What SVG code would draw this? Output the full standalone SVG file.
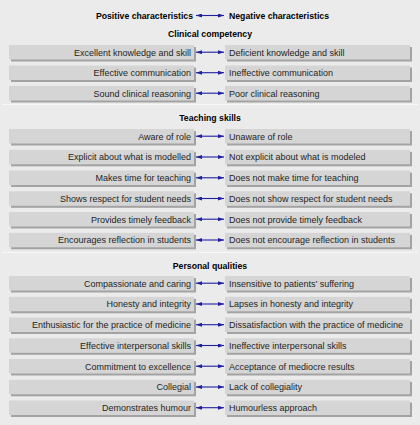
<svg xmlns="http://www.w3.org/2000/svg" width="420" height="425" viewBox="0 0 420 425">
<defs>
<style>
.bg{fill:#ebebeb}
.sep{stroke:#f7f7f7;stroke-width:1}
.box{fill:#d5d5d5}
.sh{fill:#a3a3a3}
.lt{font-family:"Liberation Sans",Arial,sans-serif;font-size:9px;fill:#1e1e1e;text-anchor:end}
.rt{font-family:"Liberation Sans",Arial,sans-serif;font-size:9px;fill:#1e1e1e;text-anchor:start}
.hd{font-family:"Liberation Sans",Arial,sans-serif;font-size:8.7px;font-weight:bold;fill:#000}
.ar{stroke:#1f1fa0;stroke-width:1.1;fill:none;marker-start:url(#ah);marker-end:url(#ah)}
</style>
<marker id="ah" viewBox="0 0 6 4" refX="6" refY="2" markerWidth="6" markerHeight="4" markerUnits="userSpaceOnUse" orient="auto-start-reverse">
<path d="M0,0 L6,2 L0,4 Z" fill="#1f1fa0"/>
</marker>
</defs>
<rect class="bg" x="0" y="0" width="420" height="425"/>
<line class="sep" x1="2" y1="104.5" x2="418" y2="104.5"/>
<line class="sep" x1="2" y1="252.5" x2="418" y2="252.5"/>

<g id="header">
<text class="hd" x="193" y="18.5" text-anchor="end">Positive characteristics</text>
<text class="hd" x="229" y="18.5">Negative characteristics</text>
</g>
<text class="hd" x="210" y="37" text-anchor="middle">Clinical competency</text>
<text class="hd" x="210" y="121" text-anchor="middle">Teaching skills</text>
<text class="hd" x="210" y="268.5" text-anchor="middle">Personal qualities</text>

<g id="connectors">
<line class="ar" x1="196" y1="15.5" x2="224" y2="15.5"/>
<line class="ar" x1="196" y1="52.2" x2="224" y2="52.2"/>
<line class="ar" x1="196" y1="72.7" x2="224" y2="72.7"/>
<line class="ar" x1="196" y1="93.2" x2="224" y2="93.2"/>
<line class="ar" x1="196" y1="136.2" x2="224" y2="136.2"/>
<line class="ar" x1="196" y1="157" x2="224" y2="157"/>
<line class="ar" x1="196" y1="177.8" x2="224" y2="177.8"/>
<line class="ar" x1="196" y1="198.5" x2="224" y2="198.5"/>
<line class="ar" x1="196" y1="219.2" x2="224" y2="219.2"/>
<line class="ar" x1="196" y1="240" x2="224" y2="240"/>
<line class="ar" x1="196" y1="283.2" x2="224" y2="283.2"/>
<line class="ar" x1="196" y1="304" x2="224" y2="304"/>
<line class="ar" x1="196" y1="324.7" x2="224" y2="324.7"/>
<line class="ar" x1="196" y1="345.5" x2="224" y2="345.5"/>
<line class="ar" x1="196" y1="366.2" x2="224" y2="366.2"/>
<line class="ar" x1="196" y1="387" x2="224" y2="387"/>
<line class="ar" x1="196" y1="407.7" x2="224" y2="407.7"/>
</g>

<g id="p1"><rect class="sh" x="11" y="47" width="185" height="14.5"/><rect class="box" x="9" y="45" width="185" height="14.5"/><text class="lt" x="191" y="55.5">Excellent knowledge and skill</text></g>
<g id="n1"><rect class="sh" x="227" y="47" width="185" height="14.5"/><rect class="box" x="225" y="45" width="185" height="14.5"/><text class="rt" x="229" y="55.5">Deficient knowledge and skill</text></g>
<g id="p2"><rect class="sh" x="11" y="67.5" width="185" height="14.5"/><rect class="box" x="9" y="65.5" width="185" height="14.5"/><text class="lt" x="191" y="76">Effective communication</text></g>
<g id="n2"><rect class="sh" x="227" y="67.5" width="185" height="14.5"/><rect class="box" x="225" y="65.5" width="185" height="14.5"/><text class="rt" x="229" y="76">Ineffective communication</text></g>
<g id="p3"><rect class="sh" x="11" y="88" width="185" height="14.5"/><rect class="box" x="9" y="86" width="185" height="14.5"/><text class="lt" x="191" y="96.5">Sound clinical reasoning</text></g>
<g id="n3"><rect class="sh" x="227" y="88" width="185" height="14.5"/><rect class="box" x="225" y="86" width="185" height="14.5"/><text class="rt" x="229" y="96.5">Poor clinical reasoning</text></g>

<g id="p4"><rect class="sh" x="11" y="131" width="185" height="14.5"/><rect class="box" x="9" y="129" width="185" height="14.5"/><text class="lt" x="191" y="139.5">Aware of role</text></g>
<g id="n4"><rect class="sh" x="227" y="131" width="185" height="14.5"/><rect class="box" x="225" y="129" width="185" height="14.5"/><text class="rt" x="229" y="139.5">Unaware of role</text></g>
<g id="p5"><rect class="sh" x="11" y="151.8" width="185" height="14.5"/><rect class="box" x="9" y="149.8" width="185" height="14.5"/><text class="lt" x="191" y="160.3">Explicit about what is modelled</text></g>
<g id="n5"><rect class="sh" x="227" y="151.8" width="185" height="14.5"/><rect class="box" x="225" y="149.8" width="185" height="14.5"/><text class="rt" x="229" y="160.3">Not explicit about what is modeled</text></g>
<g id="p6"><rect class="sh" x="11" y="172.5" width="185" height="14.5"/><rect class="box" x="9" y="170.5" width="185" height="14.5"/><text class="lt" x="191" y="181">Makes time for teaching</text></g>
<g id="n6"><rect class="sh" x="227" y="172.5" width="185" height="14.5"/><rect class="box" x="225" y="170.5" width="185" height="14.5"/><text class="rt" x="229" y="181">Does not make time for teaching</text></g>
<g id="p7"><rect class="sh" x="11" y="193.3" width="185" height="14.5"/><rect class="box" x="9" y="191.3" width="185" height="14.5"/><text class="lt" x="191" y="201.8">Shows respect for student needs</text></g>
<g id="n7"><rect class="sh" x="227" y="193.3" width="185" height="14.5"/><rect class="box" x="225" y="191.3" width="185" height="14.5"/><text class="rt" x="229" y="201.8">Does not show respect for student needs</text></g>
<g id="p8"><rect class="sh" x="11" y="214" width="185" height="14.5"/><rect class="box" x="9" y="212" width="185" height="14.5"/><text class="lt" x="191" y="222.5">Provides timely feedback</text></g>
<g id="n8"><rect class="sh" x="227" y="214" width="185" height="14.5"/><rect class="box" x="225" y="212" width="185" height="14.5"/><text class="rt" x="229" y="222.5">Does not provide timely feedback</text></g>
<g id="p9"><rect class="sh" x="11" y="234.8" width="185" height="14.5"/><rect class="box" x="9" y="232.8" width="185" height="14.5"/><text class="lt" x="191" y="243.3">Encourages reflection in students</text></g>
<g id="n9"><rect class="sh" x="227" y="234.8" width="185" height="14.5"/><rect class="box" x="225" y="232.8" width="185" height="14.5"/><text class="rt" x="229" y="243.3">Does not encourage reflection in students</text></g>

<g id="p10"><rect class="sh" x="11" y="278" width="185" height="14.5"/><rect class="box" x="9" y="276" width="185" height="14.5"/><text class="lt" x="191" y="286.5">Compassionate and caring</text></g>
<g id="n10"><rect class="sh" x="227" y="278" width="185" height="14.5"/><rect class="box" x="225" y="276" width="185" height="14.5"/><text class="rt" x="229" y="286.5">Insensitive to patients’ suffering</text></g>
<g id="p11"><rect class="sh" x="11" y="298.8" width="185" height="14.5"/><rect class="box" x="9" y="296.8" width="185" height="14.5"/><text class="lt" x="191" y="307.3">Honesty and integrity</text></g>
<g id="n11"><rect class="sh" x="227" y="298.8" width="185" height="14.5"/><rect class="box" x="225" y="296.8" width="185" height="14.5"/><text class="rt" x="229" y="307.3">Lapses in honesty and integrity</text></g>
<g id="p12"><rect class="sh" x="11" y="319.5" width="185" height="14.5"/><rect class="box" x="9" y="317.5" width="185" height="14.5"/><text class="lt" x="191" y="328">Enthusiastic for the practice of medicine</text></g>
<g id="n12"><rect class="sh" x="227" y="319.5" width="185" height="14.5"/><rect class="box" x="225" y="317.5" width="185" height="14.5"/><text class="rt" x="229" y="328">Dissatisfaction with the practice of medicine</text></g>
<g id="p13"><rect class="sh" x="11" y="340.3" width="185" height="14.5"/><rect class="box" x="9" y="338.3" width="185" height="14.5"/><text class="lt" x="191" y="348.8">Effective interpersonal skills</text></g>
<g id="n13"><rect class="sh" x="227" y="340.3" width="185" height="14.5"/><rect class="box" x="225" y="338.3" width="185" height="14.5"/><text class="rt" x="229" y="348.8">Ineffective interpersonal skills</text></g>
<g id="p14"><rect class="sh" x="11" y="361" width="185" height="14.5"/><rect class="box" x="9" y="359" width="185" height="14.5"/><text class="lt" x="191" y="369.5">Commitment to excellence</text></g>
<g id="n14"><rect class="sh" x="227" y="361" width="185" height="14.5"/><rect class="box" x="225" y="359" width="185" height="14.5"/><text class="rt" x="229" y="369.5">Acceptance of mediocre results</text></g>
<g id="p15"><rect class="sh" x="11" y="381.8" width="185" height="14.5"/><rect class="box" x="9" y="379.8" width="185" height="14.5"/><text class="lt" x="191" y="390.3">Collegial</text></g>
<g id="n15"><rect class="sh" x="227" y="381.8" width="185" height="14.5"/><rect class="box" x="225" y="379.8" width="185" height="14.5"/><text class="rt" x="229" y="390.3">Lack of collegiality</text></g>
<g id="p16"><rect class="sh" x="11" y="402.5" width="185" height="14.5"/><rect class="box" x="9" y="400.5" width="185" height="14.5"/><text class="lt" x="191" y="411">Demonstrates humour</text></g>
<g id="n16"><rect class="sh" x="227" y="402.5" width="185" height="14.5"/><rect class="box" x="225" y="400.5" width="185" height="14.5"/><text class="rt" x="229" y="411">Humourless approach</text></g>
</svg>
